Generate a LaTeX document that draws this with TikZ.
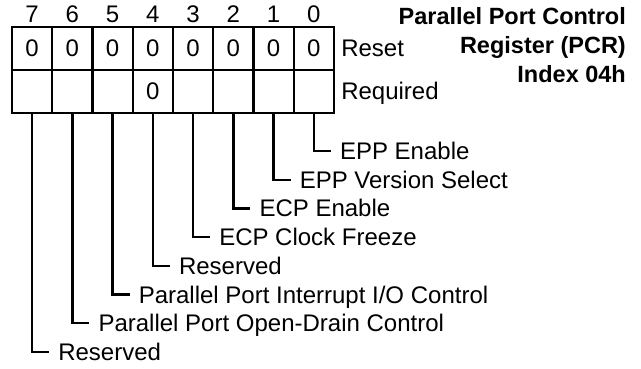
\documentclass[tikz,border=0pt]{standalone}
\usepackage{fontspec}
\setmainfont{Liberation Sans}
\usetikzlibrary{positioning}

\begin{document}
\begin{tikzpicture}[x=1pt,y=-1pt,line width=2.3pt,node distance=40.25pt,
    every node/.style={font=\fontsize{24}{29}\selectfont},
    cell/.style={draw,minimum width=40.25pt,minimum height=43pt,inner sep=0pt,text height=17pt,text depth=0pt},
    bit/.style={inner sep=0pt,text height=17pt,text depth=0pt},
    tag/.style={inner sep=0pt,anchor=west,text height=17pt,text depth=0pt},
    field/.style={anchor=west,inner xsep=8pt,inner ysep=0pt,text height=17pt,text depth=0pt},
    heading/.style={anchor=base east,inner sep=0pt,font=\fontsize{23.5}{28}\selectfont\bfseries},
    leader/.style={to path={|- (\tikztotarget)}}]
    \useasboundingbox (0,0) rectangle (641,369);

    % reset row
    \node[cell] (r7) at (32.1,48.5) {0};
    \node[cell] (r6) [right of = r7] {0};
    \node[cell] (r5) [right of = r6] {0};
    \node[cell] (r4) [right of = r5] {0};
    \node[cell] (r3) [right of = r4] {0};
    \node[cell] (r2) [right of = r3] {0};
    \node[cell] (r1) [right of = r2] {0};
    \node[cell] (r0) [right of = r1] {0};

    % required row
    \node[cell] (q7) [below of = r7, node distance=43pt] {};
    \node[cell] (q6) [right of = q7] {};
    \node[cell] (q5) [right of = q6] {};
    \node[cell] (q4) [right of = q5] {0};
    \node[cell] (q3) [right of = q4] {};
    \node[cell] (q2) [right of = q3] {};
    \node[cell] (q1) [right of = q2] {};
    \node[cell] (q0) [right of = q1] {};

    % bit numbers
    \node[bit] (n7) [above of = r7, node distance=34.5pt] {7};
    \node[bit] (n6) [above of = r6, node distance=34.5pt] {6};
    \node[bit] (n5) [above of = r5, node distance=34.5pt] {5};
    \node[bit] (n4) [above of = r4, node distance=34.5pt] {4};
    \node[bit] (n3) [above of = r3, node distance=34.5pt] {3};
    \node[bit] (n2) [above of = r2, node distance=34.5pt] {2};
    \node[bit] (n1) [above of = r1, node distance=34.5pt] {1};
    \node[bit] (n0) [above of = r0, node distance=34.5pt] {0};

    \node[tag] (reset) [right=5pt of r0] {Reset};
    \node[tag] (req) [right=5pt of q0] {Required};

    \node[heading] (h1) at (627,25) {Parallel Port Control};
    \node[heading] (h2) at (627,54) {Register (PCR)};
    \node[heading] (h3) at (627,83) {Index 04h};

    % bit fields
    \node[field] (f0) at (330.9,151) {EPP Enable};
    \node[field] (f1) at (290.6,179.7) {EPP Version Select};
    \node[field] (f2) at (250.4,208.4) {ECP Enable};
    \node[field] (f3) at (210.1,237.1) {ECP Clock Freeze};
    \node[field] (f4) at (169.9,265.9) {Reserved};
    \node[field] (f5) at (129.6,294.6) {Parallel Port Interrupt I/O Control};
    \node[field] (f6) at (89.4,323.3) {Parallel Port Open-Drain Control};
    \node[field] (f7) at (49.1,352) {Reserved};

    \path[draw]
        (q0) edge[leader] (f0)
        (q1) edge[leader] (f1)
        (q2) edge[leader] (f2)
        (q3) edge[leader] (f3)
        (q4) edge[leader] (f4)
        (q5) edge[leader] (f5)
        (q6) edge[leader] (f6)
        (q7) edge[leader] (f7)
        ;
\end{tikzpicture}
\end{document}
